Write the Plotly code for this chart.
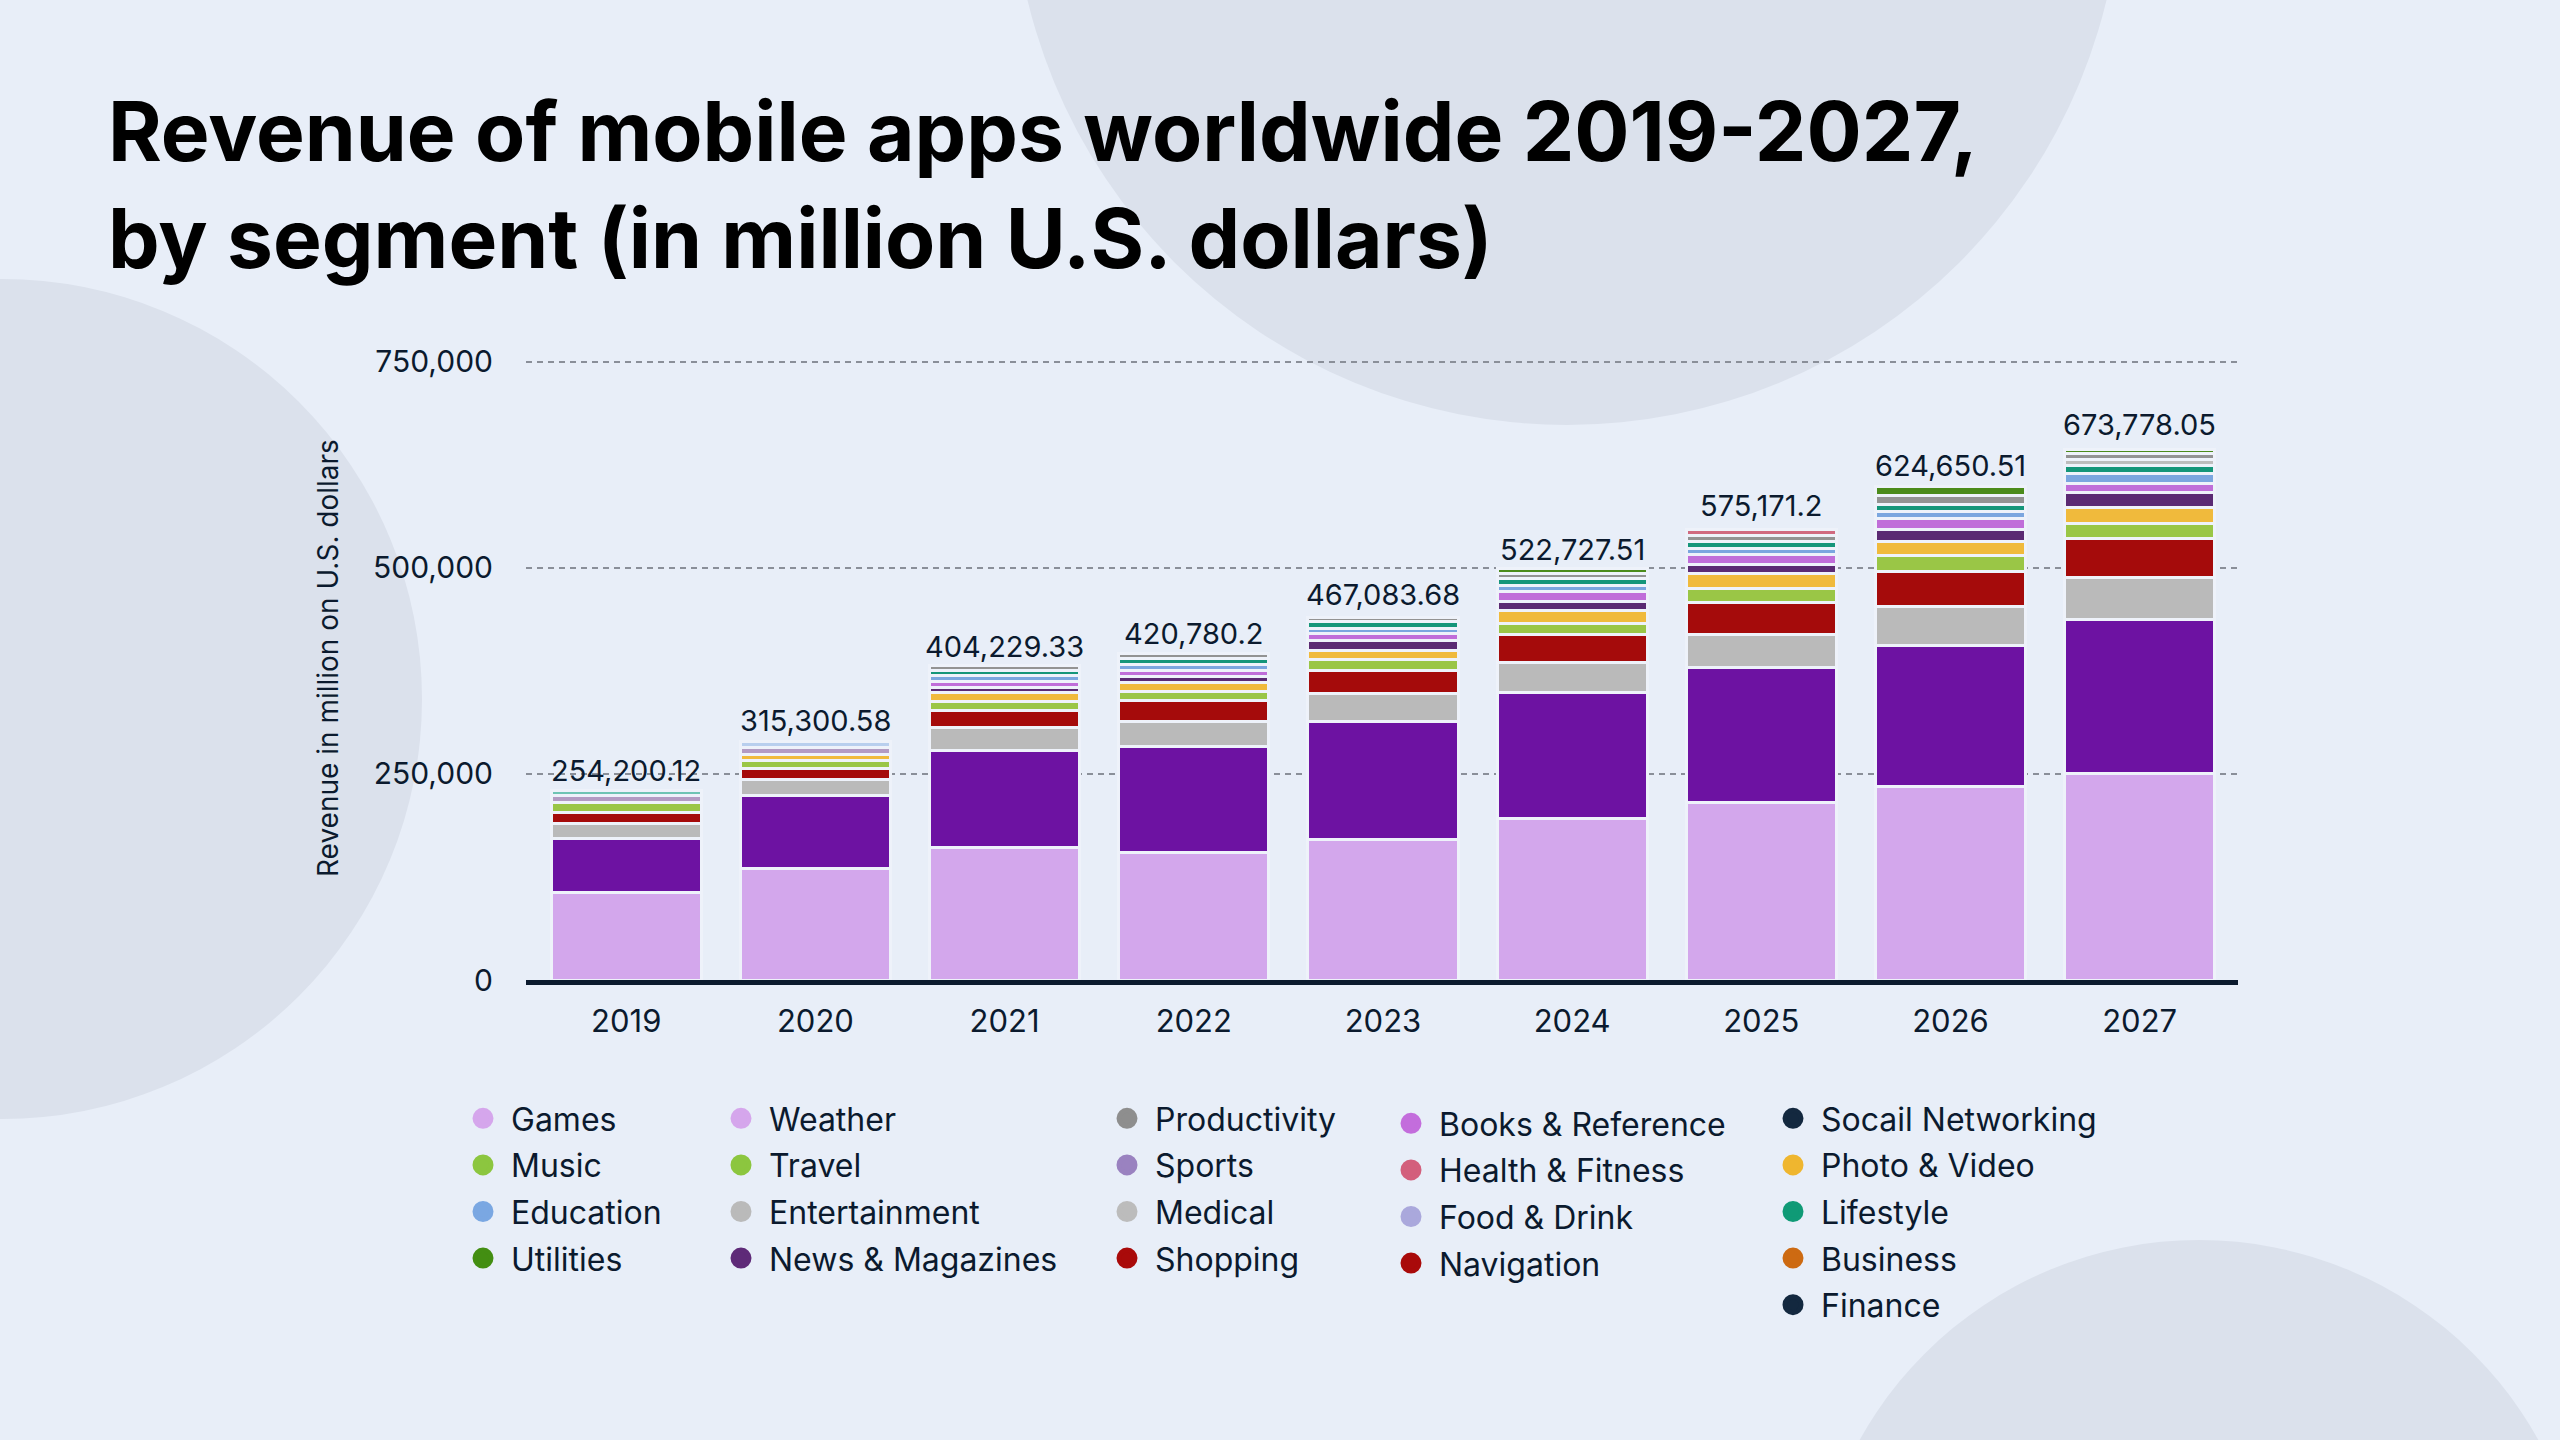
import plotly.graph_objects as go

# ---------------- data ----------------
years = ["2019", "2020", "2021", "2022", "2023", "2024", "2025", "2026", "2027"]
totals = [254200.12, 315300.58, 404229.33, 420780.2, 467083.68, 522727.51, 575171.2, 624650.51, 673778.05]

games         = [105600, 135400, 160200, 154200, 170800, 195500, 215500, 234300, 250100]
core_apps     = [65600, 88400, 118100, 129500, 142400, 153800, 163300, 171200, 187000]
entertainment = [18400, 19400, 28400, 29900, 34800, 36200, 40400, 47700, 50600]
shopping      = [13500, 13400, 20200, 25700, 27700, 33700, 38100, 42100, 47500]
music         = [12200, 9700, 11200, 10300, 13600, 13200, 17000, 19400, 18700]
photo_video   = [None, 7500, 10700, 11500, 10700, 15200, 18600, 16800, 19200]
sports        = [8100, 7900, None, None, None, None, None, None, None]
food_drink    = [None, 7300, None, None, None, None, None, None, None]
news          = [None, None, 6300, 6700, 11200, 11300, 10900, 14800, 17800]
books         = [None, None, 7500, 7900, 8900, 11800, 11800, 13000, 10900]
education     = [None, None, 6400, 6700, 6100, 7600, 8000, 9500, 12100]
lifestyle     = [6000, None, 6700, 7900, 8100, 8100, 8100, 8300, 10100]
medical       = [None, None, None, None, None, None, None, None, 7500]
productivity  = [None, None, 5500, 6100, 5800, 6500, 7300, 10900, 7000]
health        = [None, None, None, None, None, None, 7300, None, None]
utilities     = [None, None, None, None, None, 6500, None, 10600, 4900]

legend_columns = [
    ["Games", "Music", "Education", "Utilities"],
    ["Weather", "Travel", "Entertainment", "News & Magazines"],
    ["Productivity", "Sports", "Medical", "Shopping"],
    ["Books & Reference", "Health & Fitness", "Food & Drink", "Navigation"],
    ["Socail Networking", "Photo & Video", "Lifestyle", "Business", "Finance"],
]

y_tickvals = [0, 250000, 500000, 750000]
y_ticktext = ["0", "250,000", "500,000", "750,000"]

# ---------------- style ----------------
BG = "#e8eef8"
DECOR = "#dbe1ec"
INK = "#0b1a2e"
FONT = "Inter"

legend_colors = {
    "Games": "#d5a6ec", "Music": "#8cc63f", "Education": "#7aa7e2", "Utilities": "#438e12",
    "Weather": "#d5a6ec", "Travel": "#8cc63f", "Entertainment": "#bababa", "News & Magazines": "#5e2a78",
    "Productivity": "#8e8e8e", "Sports": "#9a82c0", "Medical": "#bcbcbc", "Shopping": "#a90a0a",
    "Books & Reference": "#c36ddc", "Health & Fitness": "#d35f7c", "Food & Drink": "#aaa8dc",
    "Navigation": "#a90a0a", "Socail Networking": "#13283f", "Photo & Video": "#efb62f",
    "Lifestyle": "#0f9a76", "Business": "#cd6a12", "Finance": "#13283f",
}

stack = [
    ("Games", games, "#d3a7ec"),
    ("Apps", core_apps, "#6d12a2"),
    ("Entertainment", entertainment, "#bababa"),
    ("Shopping", shopping, "#a50b0b"),
    ("Music", music, "#9ac646"),
    ("Photo & Video", photo_video, "#f0ba3c"),
    ("Sports", sports, "#b39bc3"),
    ("Food & Drink", food_drink, "#b9cfee"),
    ("News & Magazines", news, "#5b2a73"),
    ("Books & Reference", books, "#c06ed9"),
    ("Education", education, "#7ba6df"),
    ("Lifestyle", lifestyle, ["#6fc4b4"] + ["#15967a"] * 8),
    ("Medical", medical, "#bdbdbd"),
    ("Productivity", productivity, "#939393"),
    ("Health & Fitness", health, "#d06a80"),
    ("Utilities", utilities, "#4b8b1b"),
]

fig = go.Figure()
for name, vals, color in stack:
    fig.add_trace(go.Bar(
        x=years, y=vals, name=name, showlegend=False,
        marker=dict(color=color, line=dict(color="#eef2fa", width=3)),
    ))

W, H = 2560, 1440
ML, MR, MT, MB = 526, 322, 360, 460
PW, PH = W - ML - MR, H - MT - MB

def px_x(px):
    return (px - ML) / PW

def px_y(py):
    return (H - MB - py) / PH

# legend entries (5 columns, each its own legend)
legend_lefts = [455, 713, 1099, 1383, 1765]
legend_tops = [1091, 1091, 1091, 1096, 1091]
for ci, col in enumerate(legend_columns):
    lname = "legend" if ci == 0 else f"legend{ci + 1}"
    for item in col:
        c = legend_colors[item]
        fig.add_trace(go.Scatter(
            x=[years[0]], y=[None], mode="markers", name=item, legend=lname,
            legendgroup=item,
            marker=dict(size=16, color=c, symbol="circle", line=dict(color=c, width=5)),
        ))

legend_style = dict(
    orientation="v", xanchor="left", yanchor="top",
    bgcolor="rgba(0,0,0,0)", borderwidth=0,
    font=dict(family=FONT, size=32, color=INK),
    itemwidth=46, tracegroupgap=2,
)
for ci in range(5):
    key = "legend" if ci == 0 else f"legend{ci + 1}"
    fig.update_layout({key: dict(legend_style, x=px_x(legend_lefts[ci]), y=px_y(legend_tops[ci]))})

# total labels (positioned on the category index of each year)
for i, tot in enumerate(totals):
    fig.add_annotation(
        x=i, y=tot, xref="x", yref="y", text=f"{tot:,}", showarrow=False, yanchor="middle",
        font=dict(family=FONT, size=29, color=INK),
    )

# y axis title
fig.add_annotation(
    xref="paper", yref="paper", x=px_x(328), y=px_y(658),
    xanchor="center", yanchor="middle",
    text="Revenue in million on U.S. dollars", textangle=-90, showarrow=False,
    font=dict(family=FONT, size=28, color=INK),
)

# decorative circles
def circle(cx, cy, r):
    return dict(
        type="circle", xref="paper", yref="paper", layer="below",
        x0=px_x(cx - r), x1=px_x(cx + r), y0=px_y(cy + r), y1=px_y(cy - r),
        fillcolor=DECOR, line=dict(width=0),
    )

fig.update_layout(shapes=[
    circle(1567, -130, 555),
    circle(2, 699, 420),
    circle(2199, 1628, 388),
])

fig.update_layout(
    width=W, height=H,
    margin=dict(l=ML, r=MR, t=MT, b=MB, autoexpand=False),
    paper_bgcolor=BG, plot_bgcolor="rgba(0,0,0,0)",
    barmode="stack", bargap=0.206,
    title=dict(
        text="Revenue of mobile apps worldwide 2019-2027,<br>by segment (in million U.S. dollars)",
        x=108 / W, xanchor="left", y=1 - 161 / H, yanchor="top",
        font=dict(family=FONT, size=82, color="#000000", weight=700),
    ),
    xaxis=dict(
        type="category", categoryorder="array", categoryarray=years,
        range=[-0.53, 8.52],
        showline=True, linecolor=INK, linewidth=5, showgrid=False, ticks="",
        tickfont=dict(family=FONT, size=31, color=INK), ticklabelstandoff=10,
        fixedrange=True,
    ),
    yaxis=dict(
        range=[0, 752000], tickvals=y_tickvals, ticktext=y_ticktext,
        showgrid=True, gridcolor="#8a8f99", gridwidth=2, griddash="6px,5px",
        zeroline=False, showline=False, ticks="",
        tickfont=dict(family=FONT, size=30, color=INK), ticklabelstandoff=32,
        fixedrange=True,
    ),
    hovermode=False,
)

fig.write_html(
    "out.html",
    config={"displayModeBar": False},
    post_script="document.body.style.margin='0';",
)
